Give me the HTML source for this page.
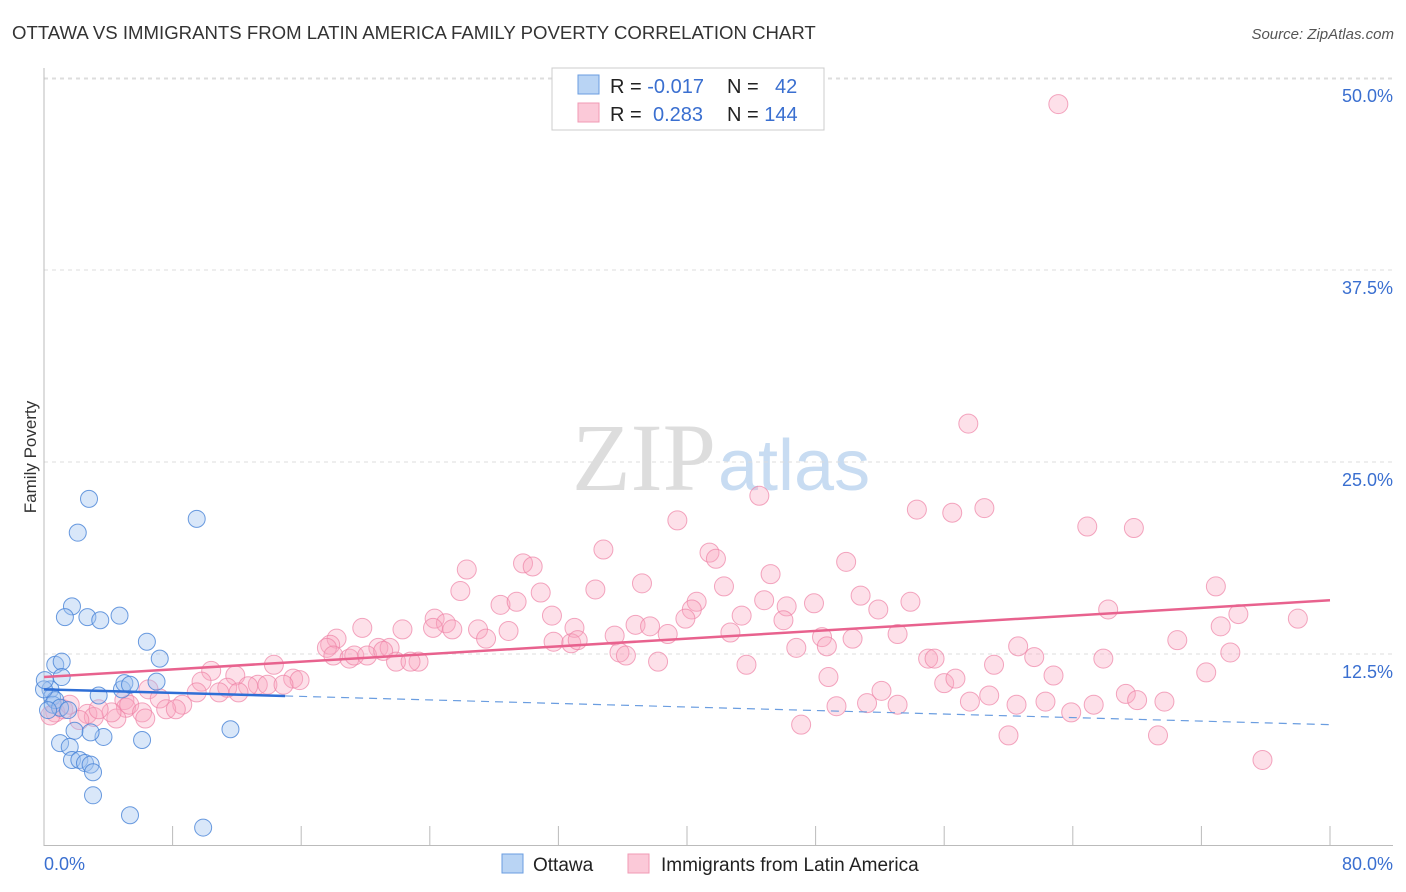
<!DOCTYPE html>
<html><head><meta charset="utf-8"><style>
body{margin:0;background:#fff;font-family:"Liberation Sans",sans-serif;}
svg{display:block}
</style></head><body>
<svg id="chart" width="1406" height="892">
<text x="12" y="39" font-size="18.6" fill="#333">OTTAWA VS IMMIGRANTS FROM LATIN AMERICA FAMILY POVERTY CORRELATION CHART</text>
<text x="1394" y="39" font-size="15" fill="#555" font-style="italic" text-anchor="end">Source: ZipAtlas.com</text>
<text x="36" y="457" font-size="17" fill="#333" transform="rotate(-90 36 457)" text-anchor="middle">Family Poverty</text>
<text x="716" y="490" font-size="96" fill="#ddd" text-anchor="end" font-family="Liberation Serif,serif">ZIP</text>
<text x="718" y="490" font-size="72" fill="#c8dcf2">atlas</text>
<g id="grid"></g><g id="pts"></g><g id="lines"></g>
<g>
<rect x="552" y="68" width="272" height="62" fill="#fff" stroke="#ccc"/>
<rect x="578" y="75" width="21" height="19" fill="#b9d4f4" stroke="#6a9de0"/>
<rect x="578" y="103" width="21" height="19" fill="#fbc9d8" stroke="#f09ab4"/>
<text x="610" y="93" font-size="20" fill="#222">R = <tspan fill="#3a6fd0">-0.017</tspan></text>
<text x="727" y="93" font-size="20" fill="#222">N = <tspan fill="#3a6fd0" x="775">42</tspan></text>
<text x="610" y="121" font-size="20" fill="#222">R = <tspan fill="#3a6fd0" x="653">0.283</tspan></text>
<text x="727" y="121" font-size="20" fill="#222">N = <tspan fill="#3a6fd0">144</tspan></text>
</g>
<g>
<rect x="502" y="854" width="21" height="19" fill="#b9d4f4" stroke="#6a9de0"/>
<text x="533" y="871" font-size="19" fill="#222">Ottawa</text>
<rect x="628" y="854" width="21" height="19" fill="#fbc9d8" stroke="#f09ab4"/>
<text x="661" y="871" font-size="19" fill="#222">Immigrants from Latin America</text>
</g>
</svg>
<script>
const yTicks=[12.5,25,37.5,50];
const yTickLabels=["12.5%","25.0%","37.5%","50.0%"];
const xTickVals=[0,8,16,24,32,40,48,56,64,72,80];
const blueX=[2.8,2.1,9.5,1.74,1.3,2.7,3.5,4.7,6.4,7.2,0.7,1.1,0.4,0.5,0.55,0.7,3.4,4.85,5.0,5.35,7.0,1.0,1.5,3.7,1.9,1.0,1.6,2.9,1.74,2.2,2.55,2.9,6.1,11.6,3.05,3.05,5.35,9.9,1.1,0,0.25,0.05];
const blueY=[22.6,20.4,21.3,15.6,14.9,14.9,14.7,15.0,13.3,12.2,11.8,12.0,10.2,9.7,9.2,9.5,9.8,10.2,10.6,10.5,10.7,9.0,8.85,7.1,7.5,6.7,6.45,7.4,5.6,5.6,5.4,5.3,6.9,7.6,4.8,3.3,2.0,1.2,11.0,10.2,8.85,10.8];
const pinkX=[63.1,57.5,44.5,39.4,54.3,56.5,58.5,64.9,67.8,34.8,41.4,41.8,29.8,30.4,26.3,49.9,45.2,37.2,42.3,34.3,25.9,30.9,72.9,50.8,28.4,29.4,40.6,44.8,47.9,53.9,51.9,40.3,46.2,66.2,74.3,78.0,24.3,25.0,27.0,28.9,31.6,24.2,25.4,33.0,35.5,36.8,37.7,38.8,39.9,43.4,42.7,46.0,48.4,50.3,53.1,73.2,70.5,19.8,22.3,18.2,17.8,17.6,20.8,21.5,18.0,19.0,19.3,20.1,21.1,21.9,23.3,22.8,27.5,31.7,32.8,33.2,35.8,36.2,38.2,46.8,48.7,60.6,61.6,55.0,55.4,59.1,65.9,73.8,72.3,43.7,48.8,10.4,14.3,11.9,13.3,15.5,15.9,13.9,14.9,12.7,9.8,11.4,12.1,10.9,9.5,8.6,6.5,7.2,7.6,8.2,5.0,5.1,5.3,6.1,6.3,4.5,4.2,2.7,3.1,3.4,2.2,1.2,0.7,0.4,1.6,62.8,56.0,56.7,52.1,57.6,58.8,60.5,62.3,63.9,65.3,67.3,68.0,69.7,51.2,53.1,49.3,47.1,60.0,69.3,75.8];
const pinkY=[48.3,27.5,22.8,21.2,21.9,21.7,22.0,20.8,20.7,19.3,19.1,18.7,18.4,18.2,18.0,18.5,17.7,17.1,16.9,16.7,16.6,16.5,16.9,16.3,15.7,15.9,15.9,16.0,15.8,15.9,15.4,15.4,15.6,15.4,15.1,14.8,14.8,14.5,14.1,14.0,15.0,14.2,14.1,14.2,13.7,14.4,14.3,13.8,14.8,15.0,13.9,14.7,13.6,13.5,13.8,14.3,13.4,14.2,14.1,13.5,13.1,12.9,12.9,12.9,12.4,12.2,12.4,12.4,12.7,12.0,12.0,12.0,13.5,13.3,13.2,13.4,12.6,12.4,12.0,12.9,13.0,13.0,12.3,12.2,12.2,11.8,12.2,12.6,11.3,11.8,11.0,11.4,11.8,11.1,10.5,10.9,10.8,10.5,10.5,10.4,10.7,10.3,10.0,10.0,10.0,9.2,10.2,9.6,8.9,8.9,9.5,9.0,9.2,8.7,8.3,8.3,8.7,8.6,8.4,8.9,8.2,8.9,8.7,8.5,9.2,11.1,10.6,10.9,10.1,9.4,9.8,9.2,9.4,8.7,9.2,9.9,9.5,9.4,9.3,9.2,9.1,7.9,7.2,7.2,5.6];
const pinkTrend=[11.0,16.0];
const blueTrend=[10.2,7.9];
const X0=44,X1=1330,Y0=846,PX=15.36;
const sx=v=>X0+v*(X1-X0)/80, sy=v=>Y0-v*PX;
const NS="http://www.w3.org/2000/svg";
function mk(t,a,parent){const e=document.createElementNS(NS,t);for(const k in a)e.setAttribute(k,a[k]);parent.appendChild(e);return e;}
const grid=document.getElementById('grid');
const topLine=mk('line',{x1:44,x2:1393,y1:79,y2:79,stroke:'#ddd','stroke-dasharray':'4,4'},grid);


yTicks.forEach((v,i)=>{
 const l=mk('line',{x1:44,x2:1393,y1:sy(v),y2:sy(v),stroke:'#ddd','stroke-dasharray':'4,4'},grid);
 
 
 const t=mk('text',{x:1393,y:sy(v)+24,'font-size':18,fill:'#3a6fd0','text-anchor':'end'},grid);
 t.textContent=yTickLabels[i];
 
 
});
const ya=mk('line',{x1:44,x2:44,y1:68,y2:846,stroke:'#bbb'},grid);


const xa=mk('line',{x1:44,x2:1393,y1:845.5,y2:845.5,stroke:'#bbb'},grid);


xTickVals.forEach(v=>{
 const l=mk('line',{x1:sx(v),x2:sx(v),y1:826,y2:846,stroke:'#bbb'},grid);
 
 
});
const xl0=mk('text',{x:44,y:870,'font-size':18,fill:'#3a6fd0'},grid);xl0.textContent='0.0%';


const xl1=mk('text',{x:1393,y:870,'font-size':18,fill:'#3a6fd0','text-anchor':'end'},grid);xl1.textContent='80.0%';


const pts=document.getElementById('pts');
pinkX.forEach((x,i)=>{
 const c=mk('circle',{cx:sx(x),cy:sy(pinkY[i]),r:9.5,fill:'rgba(248,165,192,0.35)',stroke:'rgba(238,130,165,0.7)','stroke-width':1},pts);
 
 
});
blueX.forEach((x,i)=>{
 const c=mk('circle',{cx:sx(x),cy:sy(blueY[i]),r:8.5,fill:'rgba(160,195,240,0.4)',stroke:'rgba(70,130,215,0.8)','stroke-width':1},pts);
 
 
});
const ln=document.getElementById('lines');
const pl=mk('line',{x1:sx(0),y1:sy(pinkTrend[0]),x2:sx(80),y2:sy(pinkTrend[1]),stroke:'#e8628e','stroke-width':2.5},ln);


const bAt=v=>blueTrend[0]+(blueTrend[1]-blueTrend[0])*v/80;
const bl=mk('line',{x1:sx(0),y1:sy(bAt(0)),x2:sx(15),y2:sy(bAt(15)),stroke:'#2f6fd6','stroke-width':2.5},ln);


const bd=mk('line',{x1:sx(15),y1:sy(bAt(15)),x2:sx(80),y2:sy(bAt(80)),stroke:'#6a9de0','stroke-width':1.2,'stroke-dasharray':'8,6'},ln);


</script>
</body></html>
